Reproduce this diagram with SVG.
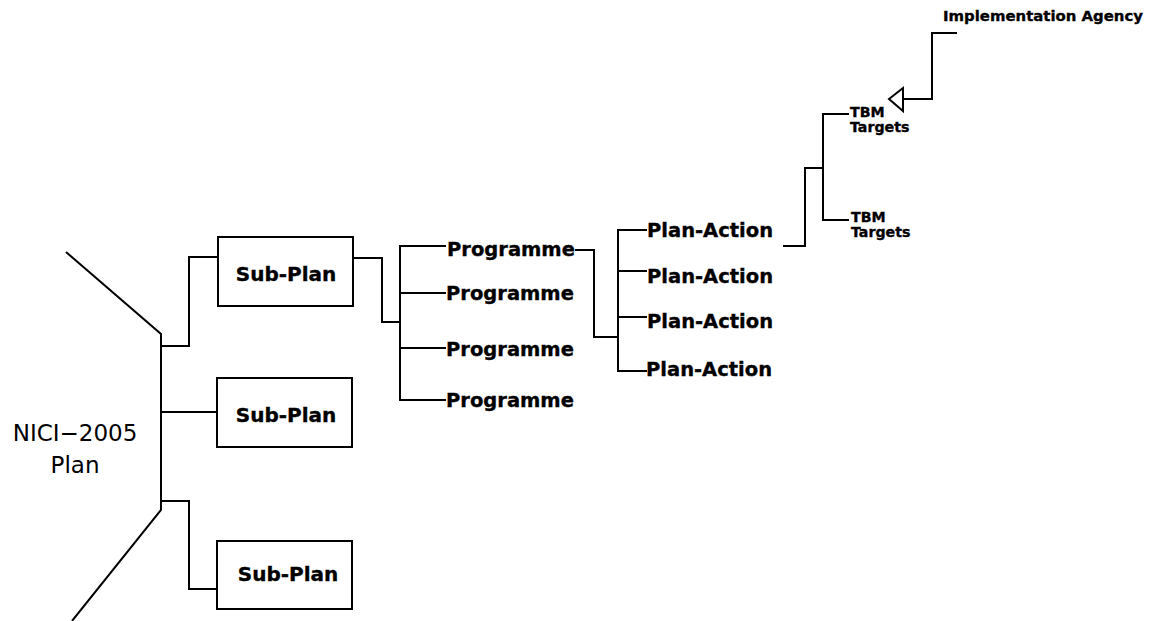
<svg xmlns="http://www.w3.org/2000/svg" width="1151" height="621" viewBox="0 0 1151 621">
  <defs>
    <style>
      .ln { fill: none; stroke: #000; stroke-width: 2; stroke-linejoin: miter; stroke-linecap: butt; }
      .box { fill: #fff; stroke: #000; stroke-width: 2; }
      .lbl { font-family: "DejaVu Sans", Verdana, sans-serif; font-weight: bold; fill: #000; stroke: #000; stroke-width: 0.35; }
      .big { font-size: 19.5px; }
      .sub { font-size: 20px; text-anchor: middle; }
      .sm { font-size: 14.2px; }
      .agency { font-size: 14.9px; }
      .root { font-family: "DejaVu Sans", Verdana, sans-serif; font-size: 23px; fill: #000; text-anchor: middle; }
    </style>
  </defs>
  <rect width="1151" height="621" fill="#fff"/>

  <!-- connectors -->
  <g id="connectors">
    <!-- root bracket -->
    <polyline class="ln" points="66,252 161,334 161,510 72,621"/>
    <!-- root to sub-plans -->
    <polyline class="ln" points="161,346 189,346 189,257 218,257"/>
    <line class="ln" x1="161" y1="412" x2="217" y2="412"/>
    <polyline class="ln" points="161,501 189,501 189,589 217,589"/>
    <!-- sub-plan to programmes -->
    <polyline class="ln" points="353,258 382,258 382,322 400,322"/>
    <line class="ln" x1="400" y1="245" x2="400" y2="401"/>
    <line class="ln" x1="399" y1="246" x2="446" y2="246"/>
    <line class="ln" x1="400" y1="293" x2="446" y2="293"/>
    <line class="ln" x1="400" y1="348" x2="446" y2="348"/>
    <line class="ln" x1="399" y1="400" x2="446" y2="400"/>
    <!-- programme to plan-actions -->
    <polyline class="ln" points="575,250 594,250 594,337 618,337"/>
    <line class="ln" x1="618" y1="229" x2="618" y2="372"/>
    <line class="ln" x1="617" y1="230" x2="647" y2="230"/>
    <line class="ln" x1="618" y1="271" x2="647" y2="271"/>
    <line class="ln" x1="618" y1="317" x2="647" y2="317"/>
    <line class="ln" x1="617" y1="371" x2="647" y2="371"/>
    <!-- plan-action to targets -->
    <polyline class="ln" points="783,246 805,246 805,168 823,168"/>
    <line class="ln" x1="823" y1="113" x2="823" y2="221"/>
    <line class="ln" x1="822" y1="114" x2="849" y2="114"/>
    <line class="ln" x1="822" y1="220" x2="849" y2="220"/>
    <!-- agency link with open arrowhead -->
    <polyline class="ln" points="903,99 932,99 932,33 957,33"/>
    <polygon class="ln" points="889,99 903,88 903,111"/>
  </g>

  <g id="root">
    <text class="root" x="75" y="441">NICI−2005</text>
    <text class="root" x="75" y="473">Plan</text>
  </g>

  <g id="subplan-1">
    <rect class="box" x="218" y="237" width="135" height="69"/>
    <text class="lbl sub" x="286" y="281">Sub-Plan</text>
  </g>
  <g id="subplan-2">
    <rect class="box" x="217" y="378" width="135" height="69"/>
    <text class="lbl sub" x="286" y="422">Sub-Plan</text>
  </g>
  <g id="subplan-3">
    <rect class="box" x="217" y="541" width="135" height="68"/>
    <text class="lbl sub" x="288" y="581">Sub-Plan</text>
  </g>

  <g id="programme-1"><text class="lbl big" x="447" y="256">Programme</text></g>
  <g id="programme-2"><text class="lbl big" x="446" y="300">Programme</text></g>
  <g id="programme-3"><text class="lbl big" x="446" y="356">Programme</text></g>
  <g id="programme-4"><text class="lbl big" x="446" y="407">Programme</text></g>

  <g id="plan-action-1"><text class="lbl big" x="647" y="237">Plan-Action</text></g>
  <g id="plan-action-2"><text class="lbl big" x="647" y="283">Plan-Action</text></g>
  <g id="plan-action-3"><text class="lbl big" x="647" y="328">Plan-Action</text></g>
  <g id="plan-action-4"><text class="lbl big" x="646" y="376">Plan-Action</text></g>

  <g id="targets-1">
    <text class="lbl sm" x="850" y="117">TBM</text>
    <text class="lbl sm" x="850" y="132">Targets</text>
  </g>
  <g id="targets-2">
    <text class="lbl sm" x="851" y="222">TBM</text>
    <text class="lbl sm" x="851" y="237">Targets</text>
  </g>

  <g id="agency">
    <text class="lbl agency" x="943" y="21">Implementation Agency</text>
  </g>
</svg>
